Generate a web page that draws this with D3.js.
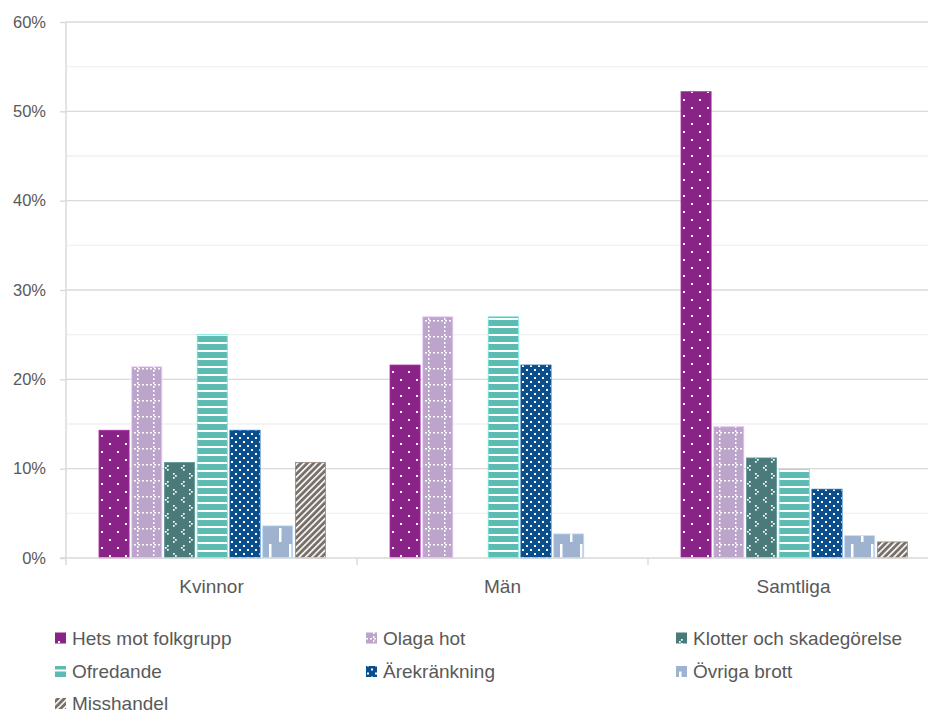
<!DOCTYPE html>
<html>
<head>
<meta charset="utf-8">
<script src="https://cdn.jsdelivr.net/npm/d3@7"></script>
<style>
  html, body { margin: 0; padding: 0; background: #fff; }
  svg { display: block; font-family: "Liberation Sans", Arial, sans-serif; }
</style>
</head>
<body>
<svg id="chart" width="928" height="715"></svg>
<script>
// ---- Data ----
const categories = ["Kvinnor", "Män", "Samtliga"];
const seriesNames = ["Hets mot folkgrupp", "Olaga hot", "Klotter och skadegörelse", "Ofredande", "Ärekränkning", "Övriga brott", "Misshandel"];
const hetsMotFolkgrupp = [14.3, 21.6, 52.2];
const olagaHot = [21.4, 27.0, 14.7];
const klotter = [10.7, 0, 11.2];
const ofredande = [25.0, 27.0, 9.9];
const arekrankning = [14.3, 21.6, 7.7];
const ovrigaBrott = [3.6, 2.7, 2.5];
const misshandel = [10.7, 0, 1.8];
const yTicks = [0, 10, 20, 30, 40, 50, 60];
const yMinorTicks = [5, 15, 25, 35, 45, 55];

const seriesValues = [hetsMotFolkgrupp, olagaHot, klotter, ofredande, arekrankning, ovrigaBrott, misshandel];
const colors = ["#8A2387", "#BCA4CB", "#4A7B7A", "#5CBBB3", "#0B4E8C", "#9DB3CF", "#787068"];

const svg = d3.select("#chart");
const defs = svg.append("defs");

// ---- Patterns ----
function pat(id, w, h, color, draw, transform) {
  const p = defs.append("pattern").attr("id", id).attr("patternUnits", "userSpaceOnUse")
    .attr("width", w).attr("height", h);
  if (transform) p.attr("patternTransform", transform);
  p.append("rect").attr("width", w).attr("height", h).attr("fill", color);
  draw(p);
}
function dot(p, x, y, s) {
  p.append("rect").attr("x", x).attr("y", y).attr("width", s).attr("height", s).attr("fill", "#fff");
}
// 0 Hets: sparse white dots
pat("p0", 16, 16, colors[0], p => { dot(p, 3, 3, 2); dot(p, 11, 11, 2); });
// 1 Olaga: dotted grid
pat("p1", 16, 16, colors[1], p => {
  for (let i = 0; i < 16; i += 4) {
    p.append("rect").attr("x", i).attr("y", 0).attr("width", 2).attr("height", 1.5).attr("fill", "#fff");
    p.append("rect").attr("x", 7).attr("y", i + 2).attr("width", 1.5).attr("height", 2).attr("fill", "#fff");
  }
});
// 2 Klotter: chevrons
pat("p2", 16, 16, colors[2], p => {
  dot(p, 5, 1, 1.7); dot(p, 3, 3, 1.7); dot(p, 5, 5, 1.7);
  dot(p, 11, 9, 1.7); dot(p, 13, 11, 1.7); dot(p, 11, 13, 1.7);
});
// 3 Ofredande: horizontal stripes
pat("p3", 8, 8, colors[3], p => {
  p.append("rect").attr("x", 0).attr("y", 6).attr("width", 8).attr("height", 2).attr("fill", "#fff");
});
// 4 Ärekränkning: dense dots
pat("p4", 8, 8, colors[4], p => { dot(p, 1, 1, 2); dot(p, 5, 5, 2); });
// 5 Övriga: vertical dashes
pat("p5", 20, 32, colors[5], p => {
  p.append("rect").attr("x", 3).attr("y", 0).attr("width", 2.5).attr("height", 14).attr("fill", "#fff");
  p.append("rect").attr("x", 13).attr("y", 16).attr("width", 2.5).attr("height", 14).attr("fill", "#fff");
});
// 6 Misshandel: diagonal stripes
pat("p6", 4.5, 4.5, colors[6], p => {
  p.append("rect").attr("x", 0).attr("y", 0).attr("width", 1.6).attr("height", 4.5).attr("fill", "#fff");
}, "rotate(45)");

// ---- Scales ----
const x0 = d3.scaleBand().domain(categories).range([66, 939]).padding(0);
const x1 = d3.scaleBand().domain(d3.range(seriesNames.length)).range([33, 259.5]).paddingInner(0.08);
const y = d3.scaleLinear().domain([0, 60]).range([558, 22]);

const textColor = "#595959";

// minor gridlines
svg.append("g").selectAll("line").data(yMinorTicks).join("line")
  .attr("x1", 66).attr("x2", 928).attr("y1", d => y(d)).attr("y2", d => y(d))
  .attr("stroke", "#F0F0F0").attr("stroke-width", 1.3);
// major gridlines
svg.append("g").selectAll("line").data(yTicks.filter(d => d > 0)).join("line")
  .attr("x1", 66).attr("x2", 928).attr("y1", d => y(d)).attr("y2", d => y(d))
  .attr("stroke", "#DADADA").attr("stroke-width", 1.4);

// y axis
const yAxis = d3.axisLeft(y).tickValues(yTicks).tickSize(6).tickPadding(14).tickFormat(d => d + "%");
const gy = svg.append("g").attr("transform", "translate(66,0)").call(yAxis);
gy.select(".domain").attr("stroke", "#D9D9D9").attr("stroke-width", 1.4).attr("d", "M0,22V565");
gy.selectAll(".tick line").attr("stroke", "#D9D9D9").attr("stroke-width", 1.4);
gy.selectAll(".tick text").attr("fill", textColor).style("font-size", "16.5px")
  .style("font-family", "'Liberation Sans', Arial, sans-serif");

// bars
const groups = svg.append("g").selectAll("g").data(categories).join("g")
  .attr("transform", d => `translate(${x0(d)},0)`);
groups.selectAll("rect").data((c, ci) => seriesValues.map((vals, si) => ({ si, v: vals[ci] })))
  .join("rect")
  .filter(d => d.v > 0)
  .attr("x", d => x1(d.si))
  .attr("width", x1.bandwidth())
  .attr("y", d => y(d.v))
  .attr("height", d => y(0) - y(d.v))
  .attr("fill", d => `url(#p${d.si})`)
  .attr("stroke", d => d3.color(colors[d.si]).brighter(0.6))
  .attr("stroke-width", 0.8);

// x axis
const xAxis = d3.axisBottom(x0).tickSize(0).tickPadding(22);
const gx = svg.append("g").attr("transform", "translate(0,558)").call(xAxis);
gx.select(".domain").attr("stroke", "#D9D9D9").attr("stroke-width", 1.4).attr("d", "M60,0H928");
gx.selectAll(".tick text").attr("fill", textColor).style("font-size", "19px")
  .style("font-family", "'Liberation Sans', Arial, sans-serif");
// category boundary ticks
svg.append("g").selectAll("line").data(categories.slice(1)).join("line")
  .attr("x1", d => x0(d)).attr("x2", d => x0(d)).attr("y1", 558).attr("y2", 565)
  .attr("stroke", "#D9D9D9").attr("stroke-width", 1.4);

// legend
const legendCols = [55, 366, 676];
const legendRows = [638, 671.5, 703.5];
const legend = svg.append("g").selectAll("g").data(seriesNames).join("g")
  .attr("transform", (d, i) => `translate(${legendCols[i % 3]},${legendRows[Math.floor(i / 3)]})`);
legend.append("rect").attr("x", 0).attr("y", -5.5).attr("width", 11).attr("height", 11)
  .attr("fill", (d, i) => `url(#p${i})`);
legend.append("text").attr("x", 17).attr("y", 0).attr("dy", "0.35em")
  .attr("fill", textColor).style("font-size", "19px").text(d => d);
</script>
</body>
</html>
